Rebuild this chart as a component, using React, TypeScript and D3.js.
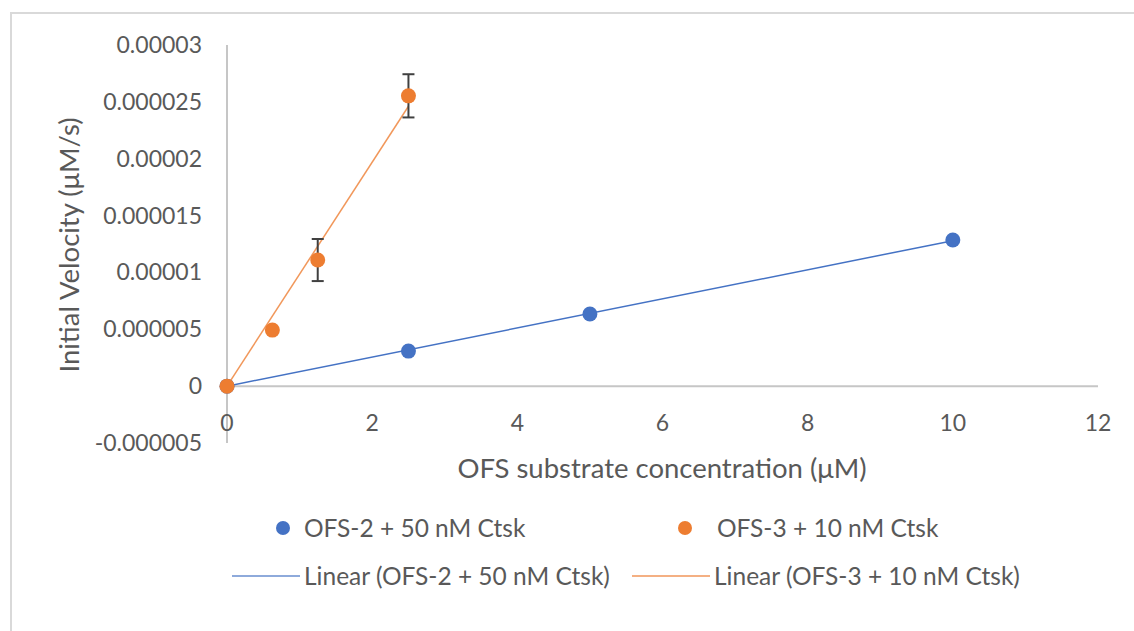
import React from 'react';
import * as d3 from 'd3';

// OFS-2 + 50 nM Ctsk
const ofs2Conc = [0, 2.5, 5, 10];
const ofs2Vel = [0, 0.00000308, 0.00000634, 0.00001285];

// OFS-3 + 10 nM Ctsk
const ofs3Conc = [0, 0.625, 1.25, 2.5];
const ofs3Vel = [0, 0.00000493, 0.00001109, 0.00002553];
const ofs3Err = [0, 0, 0.00000185, 0.0000019];

const xTicks = [0, 2, 4, 6, 8, 10, 12];
const yTicks = [-0.000005, 0, 0.000005, 0.00001, 0.000015, 0.00002, 0.000025, 0.00003];
const yTickLabels = ['-0.000005', '0', '0.000005', '0.00001', '0.000015', '0.00002', '0.000025', '0.00003'];

const seriesNames = ['OFS-2 + 50 nM Ctsk', 'OFS-3 + 10 nM Ctsk'];
const trendNames = ['Linear (OFS-2 + 50 nM Ctsk)', 'Linear (OFS-3 + 10 nM Ctsk)'];

const BLUE = '#4472C4';
const ORANGE = '#ED7D31';
const FONT = 'Lato, "Open Sans", sans-serif';

// linear trendline through the origin
const slopeThroughOrigin = (xs: number[], ys: number[]) =>
  d3.sum(xs, (x, i) => x * ys[i]) / d3.sum(xs, x => x * x);

const App = () => {
  const width = 1134;
  const height = 631;

  const x = d3.scaleLinear().domain([0, 12]).range([227, 1098]);
  const y = d3.scaleLinear().domain([-0.000005, 0.00003]).range([443, 45]);

  const line = d3.line<[number, number]>()
    .x(d => x(d[0]))
    .y(d => y(d[1]));

  const s2 = slopeThroughOrigin(ofs2Conc, ofs2Vel);
  const s3 = slopeThroughOrigin(ofs3Conc, ofs3Vel);
  const trend2: [number, number][] = [[d3.min(ofs2Conc)!, 0], [d3.max(ofs2Conc)!, s2 * d3.max(ofs2Conc)!]];
  const trend3: [number, number][] = [[d3.min(ofs3Conc)!, 0], [d3.max(ofs3Conc)!, s3 * d3.max(ofs3Conc)!]];

  const axisColor = '#c6c6c6';
  const textColor = '#595959';

  return (
    <svg width={width} height={height} style={{ position: 'absolute', left: 0, top: 0, background: '#fff' }}>
      {/* chart area border */}
      <path d={`M11,${height} L11,13 L${width},13`} fill="none" stroke="#d9d9d9" strokeWidth={2} />

      {/* axes */}
      <line x1={x(0)} x2={x(12)} y1={y(0)} y2={y(0)} stroke={axisColor} strokeWidth={2} />
      <line x1={x(0)} x2={x(0)} y1={y(0.00003)} y2={y(-0.000005)} stroke={axisColor} strokeWidth={2} />

      {yTicks.map((t, i) => (
        <text key={t} x={202} y={y(t)} dy="0.35em" textAnchor="end" fontFamily={FONT} fontSize={23} fill={textColor}>
          {yTickLabels[i]}
        </text>
      ))}
      {xTicks.map(t => (
        <text key={t} x={x(t)} y={431} textAnchor="middle" fontFamily={FONT} fontSize={23} fill={textColor}>
          {t}
        </text>
      ))}

      {/* axis titles */}
      <text x={662} y={478} textAnchor="middle" fontFamily={FONT} fontSize={27.5} fill={textColor}>
        OFS substrate concentration (μM)
      </text>
      <text transform={`translate(79,245) rotate(-90)`} textAnchor="middle" fontFamily={FONT} fontSize={27.5} fill={textColor}>
        Initial Velocity (μM/s)
      </text>

      {/* trendlines */}
      <path d={line(trend2)!} fill="none" stroke={BLUE} strokeWidth={1.5} />
      <path d={line(trend3)!} fill="none" stroke={ORANGE} strokeWidth={1.5} opacity={0.8} />

      {/* error bars */}
      {ofs3Conc.map((c, i) => ofs3Err[i] > 0 && (
        <g key={c} stroke="#404040" strokeWidth={2}>
          <line x1={x(c)} x2={x(c)} y1={y(ofs3Vel[i] - ofs3Err[i])} y2={y(ofs3Vel[i] + ofs3Err[i])} />
          <line x1={x(c) - 6} x2={x(c) + 6} y1={y(ofs3Vel[i] + ofs3Err[i])} y2={y(ofs3Vel[i] + ofs3Err[i])} />
          <line x1={x(c) - 6} x2={x(c) + 6} y1={y(ofs3Vel[i] - ofs3Err[i])} y2={y(ofs3Vel[i] - ofs3Err[i])} />
        </g>
      ))}

      {/* markers */}
      {ofs2Conc.map((c, i) => (
        <circle key={'b' + c} cx={x(c)} cy={y(ofs2Vel[i])} r={7.5} fill={BLUE} />
      ))}
      {ofs3Conc.map((c, i) => (
        <circle key={'o' + c} cx={x(c)} cy={y(ofs3Vel[i])} r={7.5} fill={ORANGE} />
      ))}

      {/* legend */}
      <g fontFamily={FONT} fontSize={24.5} fill={textColor}>
        <circle cx={283} cy={528} r={7} fill={BLUE} />
        <text x={304} y={528} dy="0.35em">{seriesNames[0]}</text>
        <circle cx={685} cy={528} r={7} fill={ORANGE} />
        <text x={717} y={528} dy="0.35em">{seriesNames[1]}</text>
        <line x1={232} x2={300} y1={576} y2={576} stroke={BLUE} strokeWidth={2} opacity={0.6} />
        <text x={304} y={576} dy="0.35em">{trendNames[0]}</text>
        <line x1={632} x2={710} y1={576} y2={576} stroke={ORANGE} strokeWidth={2} opacity={0.6} />
        <text x={714} y={576} dy="0.35em">{trendNames[1]}</text>
      </g>
    </svg>
  );
};

export default App;
